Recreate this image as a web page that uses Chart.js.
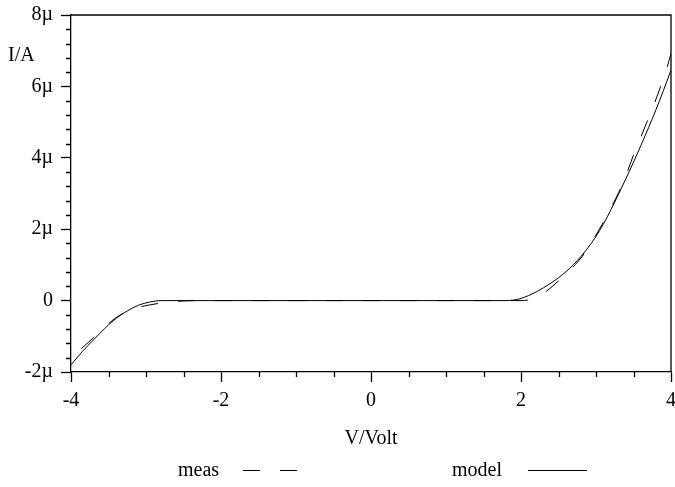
<!DOCTYPE html>
<html>
<head>
<meta charset="utf-8">
<script src="https://cdn.jsdelivr.net/npm/chart.js@4/dist/chart.umd.min.js"></script>
<style>
  body { margin: 0; background: #fff; }
  #chartIV { display: block; }
</style>
</head>
<body>
<canvas id="chartIV" width="675" height="487"></canvas>
<script>
// voltage in V, current in µA
const measV = [-3.86, -3.7, -3.55, -3.4, -3.25, -3.1, -2.95, -2.8, -2.65, -2.5, -2.3, -1, 0, 1, 1.9, 2.0, 2.1, 2.2, 2.33, 2.5, 2.69, 2.82, 2.96, 3.08, 3.2, 3.3, 3.42, 3.5, 3.6, 3.69, 3.78, 3.86, 3.95, 4.0];
const measI = [-1.34, -1.04, -0.74, -0.48, -0.3, -0.19, -0.12, -0.07, -0.03, -0.01, 0, 0, 0, 0, 0, 0, 0.02, 0.08, 0.25, 0.55, 0.93, 1.25, 1.7, 2.13, 2.6, 3.02, 3.62, 4.08, 4.59, 5.06, 5.53, 5.99, 6.55, 6.92];

const modelV = [-4.0, -3.85, -3.7, -3.55, -3.4, -3.25, -3.1, -2.95, -2.8, -2.6, -2, -1, 0, 1, 1.8, 1.9, 2.0, 2.1, 2.2, 2.3, 2.4, 2.5, 2.6, 2.7, 2.8, 2.9, 3.0, 3.1, 3.2, 3.3, 3.4, 3.5, 3.6, 3.7, 3.8, 3.9, 4.0];
const modelI = [-1.8, -1.43, -1.1, -0.78, -0.5, -0.29, -0.13, -0.04, 0, 0, 0, 0, 0, 0, 0, 0.015, 0.06, 0.14, 0.24, 0.36, 0.49, 0.64, 0.81, 1.01, 1.24, 1.5, 1.8, 2.15, 2.55, 2.98, 3.42, 3.88, 4.35, 4.84, 5.35, 5.89, 6.46];

const xTicks = [-4, -2, 0, 2, 4];
const yTicks = [-2, 0, 2, 4, 6, 8];

const serif = "'Liberation Serif', 'Times New Roman', serif";

function punkte(xs, ys) {
  return xs.map((x, i) => ({ x: x, y: ys[i] }));
}

// frame, minor ticks, y label and legend
const extras = {
  id: 'extras',
  afterDraw(chart) {
    const ctx = chart.ctx;
    const a = chart.chartArea;
    const sx = chart.scales.x;
    const sy = chart.scales.y;
    ctx.save();
    ctx.strokeStyle = '#000';
    ctx.lineWidth = 1.3;
    ctx.beginPath();
    ctx.moveTo(a.left, a.top);
    ctx.lineTo(a.right, a.top);
    ctx.lineTo(a.right, a.bottom);
    ctx.stroke();

    ctx.beginPath();
    for (let v = -4; v <= 4.001; v += 0.5) {
      if (Math.abs(v % 2) < 0.01) continue;
      const px = Math.round(sx.getPixelForValue(v)) + 0.5;
      ctx.moveTo(px, a.bottom);
      ctx.lineTo(px, a.bottom + 5);
    }
    for (let k = 0; k <= 25; k++) {
      if (k % 5 === 0) continue;
      const v = -2 + k * 0.4;
      const py = Math.round(sy.getPixelForValue(v)) + 0.5;
      ctx.moveTo(a.left, py);
      ctx.lineTo(a.left - 5, py);
    }
    ctx.stroke();

    ctx.fillStyle = '#000';
    ctx.font = '20px ' + serif;
    ctx.textBaseline = 'middle';
    ctx.textAlign = 'left';
    ctx.fillText('I/A', 8, 56);

    // legend: text then line sample
    const ds = chart.data.datasets;
    ctx.textBaseline = 'alphabetic';
    ctx.fillText(ds[0].label, 178, 476);
    ctx.fillText(ds[1].label, 452, 476);
    ctx.lineWidth = 1;
    ctx.setLineDash(ds[0].borderDash);
    ctx.beginPath();
    ctx.moveTo(243, 470.5);
    ctx.lineTo(297, 470.5);
    ctx.stroke();
    ctx.setLineDash([]);
    ctx.beginPath();
    ctx.moveTo(528, 470.5);
    ctx.lineTo(587, 470.5);
    ctx.stroke();
    ctx.restore();
  }
};

const ctx = document.getElementById('chartIV').getContext('2d');
new Chart(ctx, {
  type: 'line',
  data: {
    datasets: [
      {
        label: 'meas',
        data: punkte(measV, measI),
        borderColor: '#000',
        borderWidth: 1,
        borderDash: [17, 20],
        pointRadius: 0,
        fill: false,
        cubicInterpolationMode: 'monotone'
      },
      {
        label: 'model',
        data: punkte(modelV, modelI),
        borderColor: '#000',
        borderWidth: 1,
        pointRadius: 0,
        fill: false,
        cubicInterpolationMode: 'monotone'
      }
    ]
  },
  options: {
    responsive: false,
    animation: false,
    layout: { padding: { top: 15, right: 4, left: 0, bottom: 0 } },
    plugins: {
      legend: { display: false },
      tooltip: { enabled: false }
    },
    scales: {
      x: {
        type: 'linear',
        min: -4,
        max: 4,
        afterBuildTicks: s => { s.ticks = xTicks.map(v => ({ value: v })); },
        afterFit: s => { s.height = 115; s.paddingLeft = 0; s.paddingRight = 0; },
        ticks: {
          color: '#000',
          font: { family: serif, size: 20 },
          padding: 7,
          maxRotation: 0,
          callback: v => String(v)
        },
        grid: {
          drawOnChartArea: false,
          drawTicks: true,
          tickLength: 10,
          tickColor: '#000',
          tickWidth: 1.3
        },
        border: { display: true, color: '#000', width: 1.3 },
        title: {
          display: true,
          text: 'V/Volt',
          color: '#000',
          font: { family: serif, size: 20 },
          padding: { top: 0, bottom: 36 }
        }
      },
      y: {
        type: 'linear',
        min: -2,
        max: 8,
        afterBuildTicks: s => { s.ticks = yTicks.map(v => ({ value: v })); },
        afterFit: s => { s.width = 71; s.paddingTop = 0; s.paddingBottom = 0; },
        ticks: {
          color: '#000',
          font: { family: serif, size: 20 },
          padding: 8,
          callback: v => v === 0 ? '0' : v + 'µ'
        },
        grid: {
          drawOnChartArea: false,
          drawTicks: true,
          tickLength: 10,
          tickColor: '#000',
          tickWidth: 1.3
        },
        border: { display: true, color: '#000', width: 1.3 }
      }
    }
  },
  plugins: [extras]
});
</script>
</body>
</html>
